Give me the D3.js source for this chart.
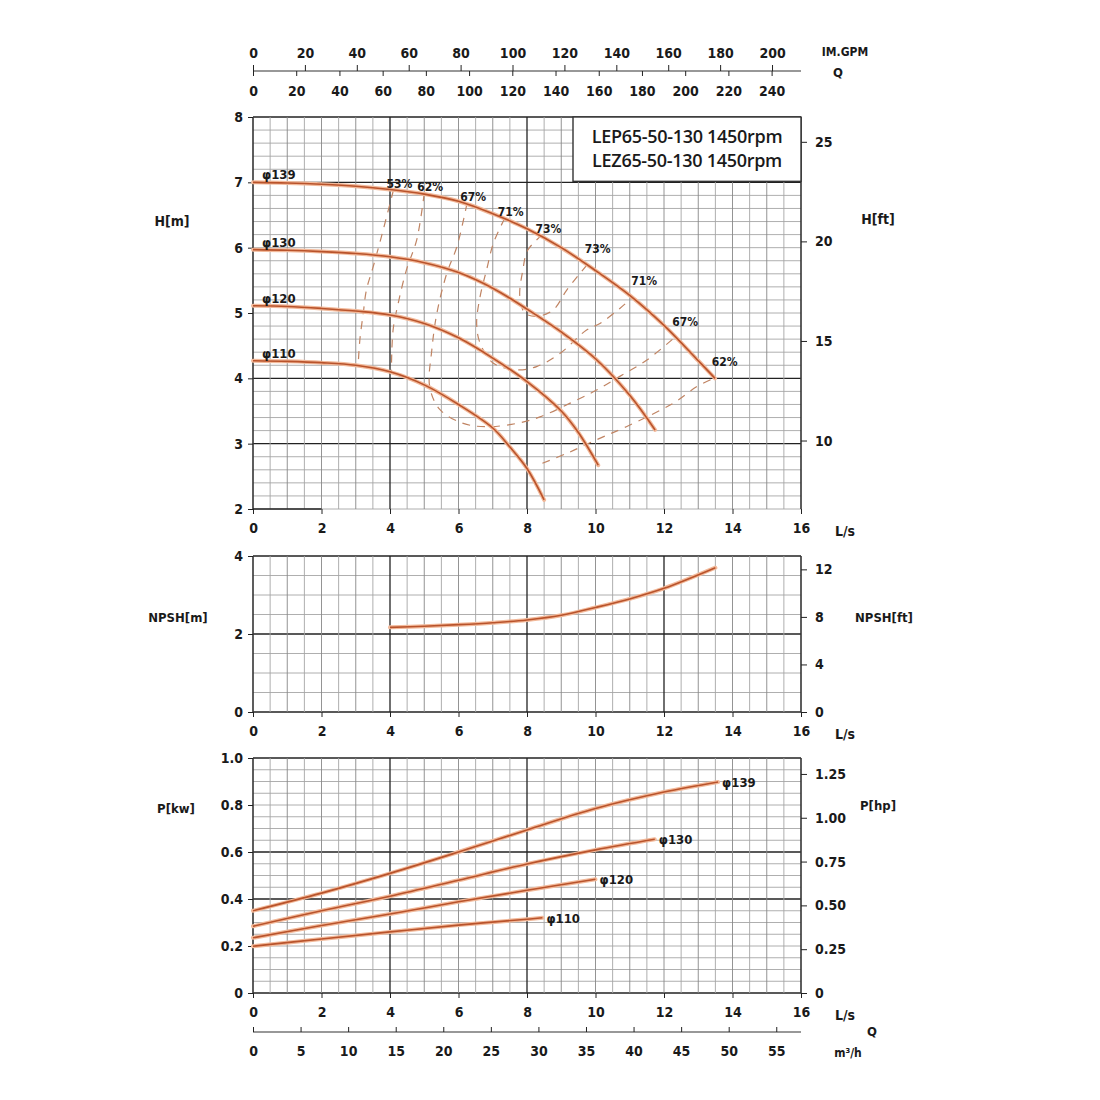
<!DOCTYPE html>
<html>
<head>
<meta charset="utf-8">
<script src="https://cdn.jsdelivr.net/npm/d3@7"></script>
<style>
  body { margin: 0; background: #fff; }
  svg text { font-family: "DejaVu Sans Condensed", "DejaVu Sans", sans-serif; font-weight: bold; fill: #1a1a1a; }
</style>
</head>
<body>
<svg width="1100" height="1100"></svg>
<script>
// ---- data ----
const diameters = ['φ139', 'φ130', 'φ120', 'φ110'];

// head H[m] vs Q[L/s]
const head139 = [[0,7.0],[1,6.99],[2,6.97],[3,6.94],[4,6.89],[5,6.82],[6,6.71],[7,6.52],[8,6.29],[9,6.0],[10,5.65],[11,5.27],[12,4.81],[13,4.27],[13.49,4.0]];
const head130 = [[0,5.97],[1,5.96],[2,5.94],[3,5.91],[4,5.86],[5,5.77],[6,5.62],[7,5.38],[8,5.06],[9,4.71],[10,4.3],[11,3.74],[11.74,3.21]];
const head120 = [[0,5.11],[1,5.1],[2,5.07],[3,5.03],[4,4.97],[5,4.84],[6,4.62],[7,4.31],[8,3.95],[9,3.5],[9.5,3.17],[10.08,2.67]];
const head110 = [[0,4.27],[1,4.26],[2,4.24],[3,4.2],[4,4.1],[5,3.9],[6,3.6],[7,3.24],[7.5,2.95],[8,2.62],[8.5,2.14]];

// iso-efficiency lines [Q, H]
const eff53 = [[4.1,6.88],[3.75,6.17],[3.51,5.71],[3.31,5.35],[3.22,5.0],[3.12,4.59],[3.07,4.2]];
const eff62a = [[5.0,6.83],[4.78,6.12],[4.48,5.66],[4.24,5.15],[4.09,4.74],[4.04,4.1]];
const eff62b = [[8.45,2.7],[9.2,2.86],[10.03,3.06],[10.9,3.26],[12.27,3.62],[12.95,3.87],[13.45,4.0]];
const eff67 = [[6.25,6.68],[5.95,6.01],[5.66,5.61],[5.37,5.0],[5.22,4.43],[5.16,3.87],[5.46,3.52],[6.14,3.31],[6.82,3.26],[7.7,3.31],[8.38,3.41],[9.26,3.62],[10.03,3.82],[10.71,4.03],[11.5,4.28],[12.3,4.62]];
const eff71 = [[7.35,6.45],[7.02,6.07],[6.82,5.66],[6.63,5.25],[6.53,4.84],[6.63,4.54],[7.02,4.23],[7.7,4.13],[8.28,4.18],[8.96,4.38],[9.74,4.74],[10.13,4.84],[10.71,5.07],[11.1,5.25]];
const eff73 = [[8.45,6.2],[8.02,5.96],[7.88,5.66],[7.79,5.25],[7.94,5.0],[8.3,4.95],[8.77,5.05],[9.16,5.35],[9.74,5.73]];
const effLeftLabels = ['53%', '62%', '67%', '71%', '73%'];
const effRightLabels = ['73%', '71%', '67%', '62%'];

// NPSH[m]
const npshQ = [4, 5, 6, 7, 8, 9, 10, 11, 12, 13.5];
const npshM = [2.17, 2.2, 2.24, 2.29, 2.36, 2.48, 2.68, 2.9, 3.17, 3.7];

// power P[kW]
const power139 = [[0,0.35],[2,0.425],[4,0.509],[6,0.6],[8,0.694],[10,0.785],[12,0.855],[13.58,0.898]];
const power130 = [[0,0.284],[2,0.35],[4,0.412],[6,0.48],[8,0.549],[10,0.609],[11.73,0.654]];
const power120 = [[0,0.235],[2,0.287],[4,0.336],[6,0.388],[8,0.437],[10.0,0.484]];
const power110 = [[0,0.199],[2,0.23],[4,0.26],[6,0.289],[8,0.314],[8.45,0.32]];

// tick labels
const qTicks = [0, 2, 4, 6, 8, 10, 12, 14, 16];
const hTicks = [2, 3, 4, 5, 6, 7, 8];
const hFtTicks = [10, 15, 20, 25];
const npshTicks = [0, 2, 4];
const npshFtTicks = [0, 4, 8, 12];
const pTicks = [0, 0.2, 0.4, 0.6, 0.8, 1.0];
const hpTicks = [0, 0.25, 0.5, 0.75, 1.0, 1.25];
const imGpmTicks = [0, 20, 40, 60, 80, 100, 120, 140, 160, 180, 200];
const usGpmTicks = [0, 20, 40, 60, 80, 100, 120, 140, 160, 180, 200, 220, 240];
const m3hTicks = [0, 5, 10, 15, 20, 25, 30, 35, 40, 45, 50, 55];
const titleLines = ['LEP65-50-130 1450rpm', 'LEZ65-50-130 1450rpm'];

// ---- layout ----
const svg = d3.select('svg');
const x = d3.scaleLinear().domain([0, 16]).range([253, 801]);
const yH = d3.scaleLinear().domain([2, 8]).range([509, 117]);
const yN = d3.scaleLinear().domain([0, 4]).range([712, 556]);
const yP = d3.scaleLinear().domain([0, 1]).range([993, 758]);
const yHft = d3.scaleLinear().domain([2 * 3.2808, 8 * 3.2808]).range([509, 117]);
const yNft = d3.scaleLinear().domain([0, 4 * 3.2808]).range([712, 556]);
const yHp = d3.scaleLinear().domain([0, 1 / 0.7457]).range([993, 758]);
const xIm = d3.scaleLinear().domain([0, 16 * 13.198]).range([253, 801]);
const xUs = d3.scaleLinear().domain([0, 16 * 15.850]).range([253, 801]);
const xM3 = d3.scaleLinear().domain([0, 16 * 3.6]).range([253, 801]);

const curveColor = '#b9532b';
const haloColor = '#f2b99a';
const intFmt = d3.format('d');

function grid(y, step, darkH, darkV) {
  const g = svg.append('g');
  const [y0, y1] = y.domain();
  const hs = d3.range(y0, y1 + 1e-6, step);
  const isDark = d => darkH.some(v => Math.abs(v - d) < 1e-6);
  g.selectAll('line.h').data(hs).join('line')
    .attr('x1', x(0)).attr('x2', x(16))
    .attr('y1', d => y(d)).attr('y2', d => y(d))
    .attr('stroke', d => isDark(d) ? '#222' : '#9a9a9a')
    .attr('stroke-width', d => isDark(d) ? 1.3 : 0.8);
  const vs = d3.range(0, 16.01, 0.5);
  g.selectAll('line.v').data(vs).join('line')
    .attr('x1', d => x(d)).attr('x2', d => x(d))
    .attr('y1', y(y0)).attr('y2', y(y1))
    .attr('stroke', d => darkV.includes(d) ? '#222' : (d % 1 === 0 ? '#888' : '#a5a5a5'))
    .attr('stroke-width', d => darkV.includes(d) ? 1.3 : 0.9);
}

function styleAxis(g) {
  g.select('.domain').remove();
  g.selectAll('line').attr('stroke', '#222');
  g.selectAll('text').attr('fill', '#1a1a1a').style('font-size', '14px')
    .style('font-family', '"DejaVu Sans Condensed", "DejaVu Sans", sans-serif').style('font-weight', 'bold');
}

function qAxis(yPos) {
  svg.append('g').attr('transform', `translate(0,${yPos})`)
    .call(d3.axisBottom(x).tickValues(qTicks).tickSize(5).tickPadding(9))
    .call(styleAxis);
  svg.append('text').attr('x', 845).attr('y', yPos + 27).attr('text-anchor', 'middle')
    .style('font-size', '14px').text('L/s');
}

function drawCurve(data, yScale) {
  const line = d3.line().x(d => x(d[0])).y(d => yScale(d[1])).curve(d3.curveCatmullRom.alpha(0.5));
  svg.append('path').datum(data).attr('d', line).attr('fill', 'none')
    .attr('stroke', haloColor).attr('stroke-width', 4).attr('stroke-linecap', 'round');
  svg.append('path').datum(data).attr('d', line).attr('fill', 'none')
    .attr('stroke', curveColor).attr('stroke-width', 1.6);
}

function borders(y) {
  const [y0, y1] = y.domain();
  [0, 16].forEach(q => {
    svg.append('line').attr('x1', x(q)).attr('x2', x(q)).attr('y1', y(y0)).attr('y2', y(y1))
      .attr('stroke', '#222').attr('stroke-width', 1.3);
  });
}

// ---- head panel ----
grid(yH, 0.2, [3, 4, 7, 8], [4, 8]);
borders(yH);
svg.append('line').attr('x1', x(0)).attr('x2', x(2)).attr('y1', yH(2)).attr('y2', yH(2)).attr('stroke', '#222').attr('stroke-width', 1.3);

svg.append('g').attr('transform', `translate(${x(0)},0)`)
  .call(d3.axisLeft(yH).tickValues(hTicks).tickSize(5).tickPadding(5).tickFormat(intFmt)).call(styleAxis);
svg.append('g').attr('transform', `translate(${x(16)},0)`)
  .call(d3.axisRight(yHft).tickValues(hFtTicks).tickSize(6).tickPadding(8).tickFormat(intFmt)).call(styleAxis);
qAxis(509);
svg.append('text').attr('x', 172).attr('y', 226).attr('text-anchor', 'middle').style('font-size', '14px').text('H[m]');
svg.append('text').attr('x', 878).attr('y', 224).attr('text-anchor', 'middle').style('font-size', '14px').text('H[ft]');

// efficiency dashed lines
const effLine = d3.line().x(d => x(d[0])).y(d => yH(d[1])).curve(d3.curveCatmullRom);
[eff53, eff62a, eff62b, eff67, eff71, eff73].forEach(d => {
  svg.append('path').datum(d).attr('d', effLine).attr('fill', 'none')
    .attr('stroke', '#c08463').attr('stroke-width', 1.2).attr('stroke-dasharray', '8,7');
});

// head curves
const heads = [head139, head130, head120, head110];
heads.forEach(d => drawCurve(d, yH));
heads.forEach((d, i) => {
  svg.append('text').attr('x', 262).attr('y', yH(d[0][1]) - 3)
    .style('font-size', '13px').text(diameters[i]);
});

// efficiency labels
const leftStarts = [eff53, eff62a, eff67, eff71, eff73].map(d => d[0]);
leftStarts.forEach((p, i) => {
  svg.append('text').attr('x', x(p[0]) + 6).attr('y', yH(p[1]) - 2)
    .attr('text-anchor', 'middle').style('font-size', '12px').text(effLeftLabels[i]);
});
const rightEnds = [eff73, eff71, eff67, eff62b].map(d => d[d.length - 1]);
rightEnds.forEach((p, i) => {
  svg.append('text').attr('x', x(p[0]) + 11).attr('y', yH(p[1]) - 12)
    .attr('text-anchor', 'middle').style('font-size', '12px').text(effRightLabels[i]);
});

// title box
svg.append('rect').attr('x', 573).attr('y', yH(8)).attr('width', x(16) - 573).attr('height', yH(7) - yH(8) - 1)
  .attr('fill', '#fff').attr('stroke', '#333').attr('stroke-width', 1.4);
titleLines.forEach((t, i) => {
  svg.append('text').attr('x', 687).attr('y', 143 + i * 23.5).attr('text-anchor', 'middle')
    .style('font-family', '"Open Sans", sans-serif').style('font-weight', '600').style('font-size', '18px')
    .style('letter-spacing', '-0.3px').attr('fill', '#222').text(t);
});

// ---- top flow axes ----
svg.append('line').attr('x1', x(0)).attr('x2', x(16)).attr('y1', 71).attr('y2', 71).attr('stroke', '#333').attr('stroke-width', 1.2);
svg.append('g').attr('transform', 'translate(0,71)')
  .call(d3.axisTop(xIm).tickValues(imGpmTicks).tickSize(6).tickPadding(7)).call(styleAxis);
svg.append('g').attr('transform', 'translate(0,71)')
  .call(d3.axisBottom(xUs).tickValues(usGpmTicks).tickSize(5).tickPadding(10)).call(styleAxis);
svg.append('text').attr('x', 845).attr('y', 56).attr('text-anchor', 'middle').style('font-size', '12px').text('IM.GPM');
svg.append('text').attr('x', 838).attr('y', 77).attr('text-anchor', 'middle').style('font-size', '13px').text('Q');

// ---- NPSH panel ----
grid(yN, 0.5, [0, 2, 4], [4, 8, 12]);
borders(yN);
svg.append('g').attr('transform', `translate(${x(0)},0)`)
  .call(d3.axisLeft(yN).tickValues(npshTicks).tickSize(5).tickPadding(5).tickFormat(intFmt)).call(styleAxis);
svg.append('g').attr('transform', `translate(${x(16)},0)`)
  .call(d3.axisRight(yNft).tickValues(npshFtTicks).tickSize(6).tickPadding(8).tickFormat(intFmt)).call(styleAxis);
qAxis(712);
svg.append('text').attr('x', 178).attr('y', 622).attr('text-anchor', 'middle').style('font-size', '13px').text('NPSH[m]');
svg.append('text').attr('x', 884).attr('y', 622).attr('text-anchor', 'middle').style('font-size', '13px').text('NPSH[ft]');
drawCurve(npshQ.map((q, i) => [q, npshM[i]]), yN);

// ---- power panel ----
grid(yP, 0.05, [0, 0.4, 0.6, 1.0], [4, 8]);
borders(yP);
svg.append('g').attr('transform', `translate(${x(0)},0)`)
  .call(d3.axisLeft(yP).tickValues(pTicks).tickSize(5).tickPadding(5).tickFormat(d => d === 0 ? '0' : d.toFixed(1))).call(styleAxis);
svg.append('g').attr('transform', `translate(${x(16)},0)`)
  .call(d3.axisRight(yHp).tickValues(hpTicks).tickSize(6).tickPadding(8).tickFormat(d => d === 0 ? '0' : d.toFixed(2))).call(styleAxis);
qAxis(993);
svg.append('text').attr('x', 176).attr('y', 813).attr('text-anchor', 'middle').style('font-size', '13px').text('P[kw]');
svg.append('text').attr('x', 878).attr('y', 810).attr('text-anchor', 'middle').style('font-size', '13px').text('P[hp]');

const powers = [power139, power130, power120, power110];
powers.forEach(d => drawCurve(d, yP));
powers.forEach((d, i) => {
  const p = d[d.length - 1];
  svg.append('text').attr('x', x(p[0]) + 4).attr('y', yP(p[1]) + 5)
    .style('font-size', '13px').text(diameters[i]);
});

// ---- bottom m3/h axis ----
svg.append('line').attr('x1', x(0)).attr('x2', x(16)).attr('y1', 1032).attr('y2', 1032).attr('stroke', '#333').attr('stroke-width', 1.2);
svg.append('g').attr('transform', 'translate(0,1032)')
  .call(d3.axisTop(xM3).tickValues(m3hTicks).tickSize(5).tickFormat(''))
  .call(styleAxis);
svg.append('g').attr('transform', 'translate(0,1032)')
  .call(d3.axisBottom(xM3).tickValues(m3hTicks).tickSize(0).tickPadding(14))
  .call(styleAxis);
svg.append('text').attr('x', 872).attr('y', 1036).attr('text-anchor', 'middle').style('font-size', '13px').text('Q');
svg.append('text').attr('x', 848).attr('y', 1057).attr('text-anchor', 'middle').style('font-size', '12px').text('m³/h');
</script>
</body>
</html>
